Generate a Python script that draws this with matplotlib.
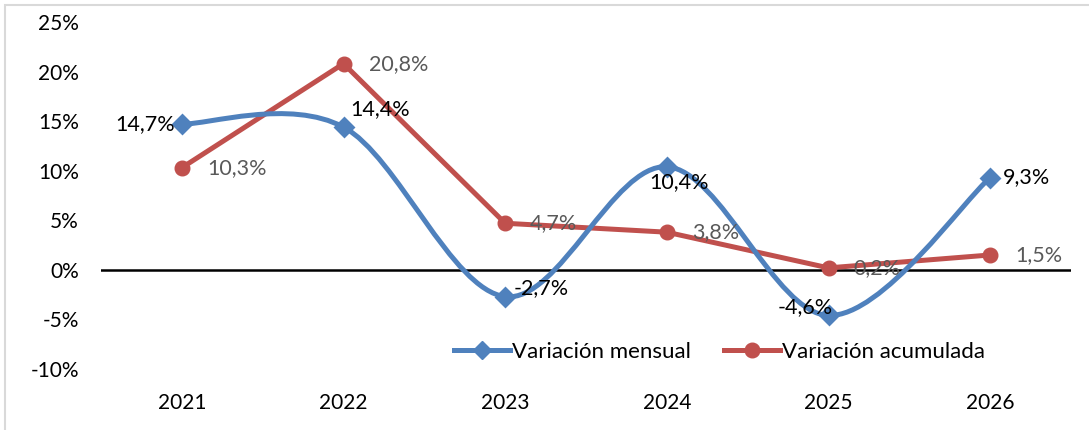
import numpy as np
import matplotlib
matplotlib.use("Agg")
import matplotlib.pyplot as plt
from matplotlib.path import Path
from matplotlib.patches import PathPatch, Rectangle
from matplotlib.lines import Line2D

years = ["2021", "2022", "2023", "2024", "2025", "2026"]
mensual = [14.7, 14.4, -2.7, 10.4, -4.6, 9.3]
acumulada = [10.3, 20.8, 4.7, 3.8, 0.2, 1.5]
mensual_labels = ["14,7%", "14,4%", "-2,7%", "10,4%", "-4,6%", "9,3%"]
acumulada_labels = ["10,3%", "20,8%", "4,7%", "3,8%", "0,2%", "1,5%"]
yticks = [-10, -5, 0, 5, 10, 15, 20, 25]

BLUE = "#4F81BD"
RED = "#C0504D"
plt.rcParams['font.family'] = ['Lato', 'DejaVu Sans']

fig = plt.figure(figsize=(10.89, 4.30), dpi=100)
ax = fig.add_axes([101/1089, (430-369)/430, 970/1089, 347/430])

x = np.arange(len(years))

# Smoothed (Catmull-Rom style bezier) path for mensual
def smooth_path(xs, ys):
    pts = np.column_stack([xs, ys]).astype(float)
    n = len(pts)
    verts = [pts[0]]
    codes = [Path.MOVETO]
    for i in range(n - 1):
        p0 = pts[i - 1] if i > 0 else pts[i]
        p1 = pts[i]
        p2 = pts[i + 1]
        p3 = pts[i + 2] if i + 2 < n else pts[i + 1]
        c1 = p1 + (p2 - p0) / 6.0
        c2 = p2 - (p3 - p1) / 6.0
        verts += [c1, c2, p2]
        codes += [Path.CURVE4] * 3
    return Path(verts, codes)

ax.axhline(0, color="black", lw=1.8, zorder=1)

patch = PathPatch(smooth_path(x, mensual), facecolor="none", edgecolor=BLUE,
                  lw=3.6, capstyle="round", joinstyle="round", zorder=3)
ax.add_patch(patch)
ax.plot(x, mensual, ls="none", marker="D", ms=9, color=BLUE, mec=BLUE,
        mew=2, mfc=BLUE, zorder=4)

ax.plot(x, acumulada, color=RED, lw=3.6, marker="o", ms=10.5,
        solid_capstyle="round", zorder=2)

LBL = 15.5
# labels
blue_off = [(-7, 0, "right"), (7, 18, "left"), (8, 9, "left"),
            (12, -15, "center"), (4, 8, "right"), (13, 1, "left")]
for xi, yi, lab, (dx, dy, ha) in zip(x, mensual, mensual_labels, blue_off):
    ax.annotate(lab, (xi, yi), xytext=(dx, dy), textcoords="offset pixels",
                ha=ha, va="center", fontsize=LBL, color="black", zorder=6)
for xi, yi, lab in zip(x, acumulada, acumulada_labels):
    ax.annotate(lab, (xi, yi), xytext=(25, 0), textcoords="offset pixels",
                ha="left", va="center", fontsize=LBL, color="#595959", zorder=6)

ax.set_xlim(-0.5, len(years) - 0.5)
ax.set_ylim(-10, 25)
ax.set_xticks(x)
ax.set_xticklabels(years, fontsize=15)
ax.set_yticks(yticks)
ax.set_yticklabels([f"{v}%" for v in yticks], fontsize=15)
ax.tick_params(axis="x", length=0, pad=17.5)
ax.tick_params(axis="y", length=0, pad=16)
for s in ax.spines.values():
    s.set_visible(False)

handles = [Line2D([], [], color=BLUE, lw=3.6, marker="D", ms=9),
           Line2D([], [], color=RED, lw=3.6, marker="o", ms=10.5)]
ax.legend(handles, ["Variación mensual", "Variación acumulada"], ncol=2,
          loc="center", bbox_to_anchor=(0.638, 0.049), frameon=False,
          fontsize=16, handlelength=2.5, handletextpad=0.1, columnspacing=1.5)

# figure border (top and left visible)
fig.patches.append(Rectangle((5/1089, -0.1), 1.2, 425/430 + 0.1,
                             transform=fig.transFigure, fill=False,
                             edgecolor="#D9D9D9", lw=1.5))

fig.savefig("out.png", dpi=100)
